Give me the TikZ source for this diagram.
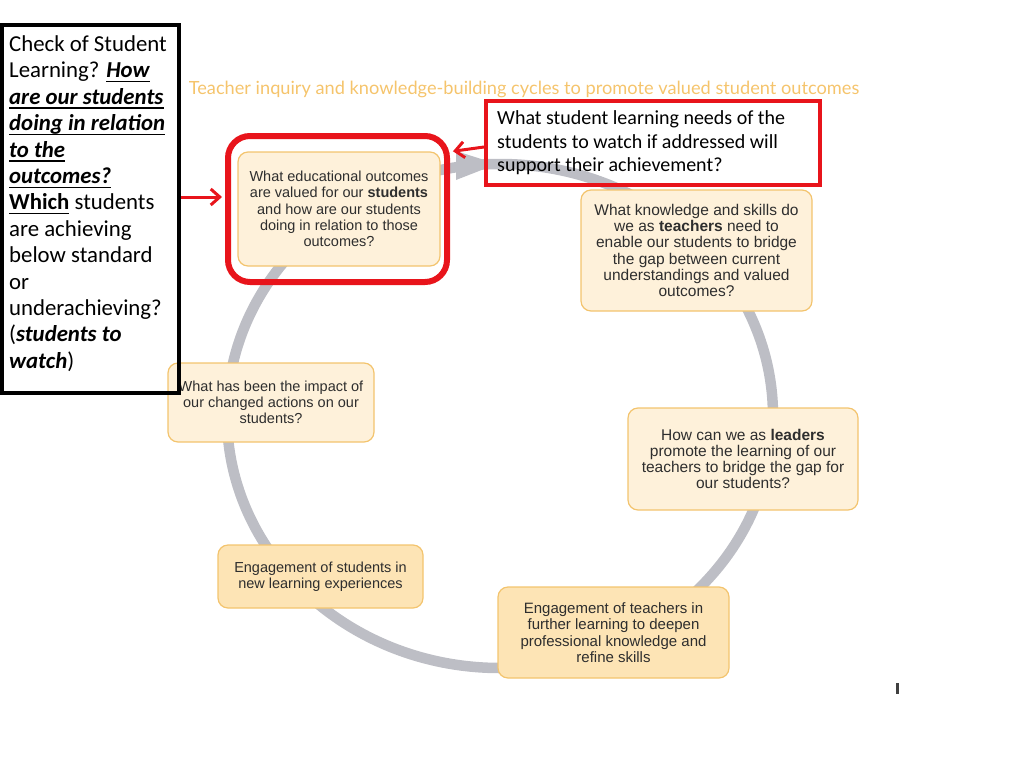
\documentclass[tikz,border=0pt]{standalone}
\usepackage{fontspec}
\setmainfont{Liberation Sans}
\newfontfamily\calfont{Carlito}
\newfontfamily\titlefont{Lato}
\usetikzlibrary{arrows.meta}
\definecolor{ringgray}{HTML}{BDBEC5}
\definecolor{boxline}{HTML}{F3C46E}
\definecolor{boxfillA}{HTML}{FEF1DA}
\definecolor{boxfillB}{HTML}{FDE4B5}
\definecolor{titleor}{HTML}{F5C46C}
\definecolor{redline}{HTML}{E8141B}
\definecolor{boxtext}{HTML}{2E2E2E}
\newcommand{\myul}[1]{\setbox0\hbox{#1}\rlap{\rule[-4.5pt]{\wd0}{1.4pt}}\box0\relax}
\newcommand{\ulbi}[1]{\myul{\textbf{\textit{#1}}}}
\begin{document}
\begin{tikzpicture}[x=1pt,y=-1pt,
  cyc/.style={draw=boxline, line width=1.2pt, rounded corners=10pt, fill=boxfillA,
    align=center, inner sep=0pt, text=boxtext},
  cycB/.style={cyc, fill=boxfillB},
  redarrow/.style={draw=redline, line width=3pt, -{Straight Barb[length=9pt,width=16pt]}},
]
\useasboundingbox (0,0) rectangle (1024,768);
% ring
\draw[ringgray, line width=10.5pt] (500,416) ellipse [x radius=273, y radius=252];
\fill[ringgray] (456,151) -- (497,164) -- (456,180) -- cycle;
% title
\node[font=\titlefont\fontsize{18.2}{21}\selectfont, text=titleor] (title) at (524,89)
  {Teacher inquiry and knowledge-building cycles to promote valued student outcomes};
% cycle boxes
\node[cyc, minimum width=202pt, minimum height=114pt, font=\fontsize{14.5}{16.3}\selectfont] (outc) at (339,209)
  {What educational outcomes\\are valued for our \textbf{students}\\and how are our students\\doing in relation to those\\outcomes?};
\node[cyc, minimum width=231pt, minimum height=121pt, font=\fontsize{15.5}{16.3}\selectfont] (teach) at (696.5,250.5)
  {What knowledge and skills do\\we as \textbf{teachers} need to\\enable our students to bridge\\the gap between current\\understandings and valued\\outcomes?};
\node[cyc, minimum width=230pt, minimum height=102pt, font=\fontsize{15.5}{16.3}\selectfont] (lead) at (743,459)
  {How can we as \textbf{leaders}\\promote the learning of our\\teachers to bridge the gap for\\our students?};
\node[cycB, minimum width=231pt, minimum height=91pt, font=\fontsize{15}{16.3}\selectfont] (engt) at (613.5,632.5)
  {Engagement of teachers in\\further learning to deepen\\professional knowledge and\\refine skills};
\node[cycB, minimum width=205pt, minimum height=63pt, font=\fontsize{14.5}{16.3}\selectfont] (engs) at (320.5,576.5)
  {Engagement of students in\\new learning experiences};
\node[cyc, minimum width=206pt, minimum height=79pt, font=\fontsize{14.5}{16.3}\selectfont] (impact) at (271,402.5)
  {What has been the impact of\\our changed actions on our\\students?};
% red frame around first box
\node[draw=redline, line width=6pt, rounded corners=22pt, minimum width=219pt, minimum height=146pt, inner sep=0pt] (frame) at (337.5,209) {};
% red question box
\node[draw=redline, line width=4pt, minimum width=334pt, minimum height=84pt, inner sep=0pt] (need) at (653,143) {};
\node[anchor=west, align=left, inner sep=0pt, font=\calfont\fontsize{20}{23.5}\selectfont] (needtext) at (497,143)
  {What student learning needs of the\\students to watch if addressed will\\support their achievement?};
% black box
\node[draw=black, line width=4pt, minimum width=177pt, minimum height=368pt, inner sep=0pt] (black) at (90.5,209) {};
\node[anchor=west, align=left, inner sep=0pt, font=\calfont\fontsize{22.8}{26.4}\selectfont] (blacktext) at (9,203.5)
  {Check of Student\\
   Learning? \ulbi{How}\\
   \ulbi{are our students}\\
   \ulbi{doing in relation}\\
   \ulbi{to the}\\
   \ulbi{outcomes?}\\
   \myul{\textbf{Which}} students\\
   are achieving\\
   below standard\\
   or\\
   underachieving?\\
   (\textbf{\textit{students to}}\\
   \textbf{\textit{watch}})};
% red arrows
\draw[redarrow, shorten >=3pt] ([yshift=12pt]black.east) -- ([yshift=12pt]frame.west);
\draw[redarrow, shorten >=3pt] ([yshift=-4pt]need.west) -- (frame.27);
% small tick
\fill[black!75] (896,683) rectangle (899,694);
\end{tikzpicture}
\end{document}
